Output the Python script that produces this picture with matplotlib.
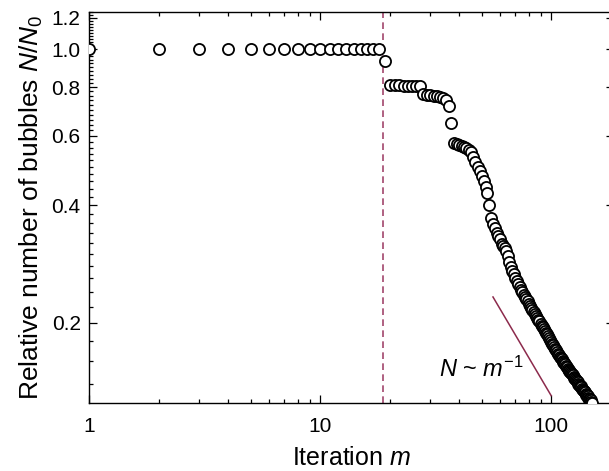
import numpy as np
import matplotlib
matplotlib.use("Agg")
import matplotlib.pyplot as plt
from matplotlib.ticker import FixedLocator, FixedFormatter, NullFormatter

plt.rcParams['font.family'] = ['Liberation Sans', 'DejaVu Sans']
plt.rcParams['mathtext.fontset'] = 'custom'
plt.rcParams['mathtext.rm'] = 'Liberation Sans'
plt.rcParams['mathtext.it'] = 'Liberation Sans:italic'

# ---- data ----
iteration = list(range(1, 151))
relative_n = [
    # 1-19
    1.0, 1.0, 1.0, 1.0, 1.0, 1.0, 1.0, 1.0, 1.0, 1.0,
    1.0, 1.0, 1.0, 1.0, 1.0, 1.0, 1.0, 1.0, 0.93,
    # 20-27
    0.810, 0.809, 0.808, 0.807, 0.806, 0.805, 0.804, 0.803,
    # 28-36
    0.768, 0.765, 0.763, 0.761, 0.759, 0.756, 0.750, 0.742, 0.715,
    # 37-45
    0.648, 0.575, 0.571, 0.568, 0.565, 0.562, 0.558, 0.554, 0.546,
    # 46-55
    0.530, 0.515, 0.500, 0.489, 0.475, 0.460, 0.445, 0.430, 0.400, 0.370,
    # 56-65
    0.358, 0.350, 0.340, 0.334, 0.327, 0.318, 0.314, 0.310, 0.305, 0.296,
    # 66-75
    0.287, 0.278, 0.272, 0.266, 0.261, 0.256, 0.252, 0.247, 0.243, 0.240,
    # 76-85
    0.236, 0.233, 0.230, 0.227, 0.224, 0.221, 0.219, 0.216, 0.213, 0.211,
    # 86-95
    0.208, 0.206, 0.204, 0.202, 0.199, 0.197, 0.195, 0.193, 0.191, 0.189,
    # 96-105
    0.187, 0.185, 0.183, 0.181, 0.179, 0.177, 0.176, 0.174, 0.172, 0.171,
    # 106-115
    0.169, 0.167, 0.166, 0.164, 0.163, 0.162, 0.160, 0.159, 0.158, 0.157,
    # 116-125
    0.155, 0.154, 0.153, 0.152, 0.151, 0.150, 0.149, 0.148, 0.147, 0.146,
    # 126-135
    0.145, 0.144, 0.143, 0.142, 0.141, 0.140, 0.139, 0.138, 0.138, 0.137,
    # 136-145
    0.136, 0.135, 0.134, 0.134, 0.133, 0.132, 0.131, 0.131, 0.130, 0.129,
    # 146-150
    0.128, 0.128, 0.127, 0.126, 0.125,
]
transition_m = 18.7
guide_m = [56, 100]
guide_c = 13.05  # N = c / m

x_major = [1, 10, 100]
x_major_labels = ['1', '10', '100']
y_major = [0.2, 0.4, 0.6, 0.8, 1.0, 1.2]
y_major_labels = ['0.2', '0.4', '0.6', '0.8', '1.0', '1.2']
y_minor = [round(0.12 + 0.02 * i, 2) for i in range(57)]

# ---- figure ----
fig = plt.figure(figsize=(6.09, 4.71), dpi=100)
ax = fig.add_axes([89 / 609, 1 - 403 / 471, 525 / 609, 391 / 471])

ax.set_xscale('log')
ax.set_yscale('log')
ax.set_xlim(1, 187)
ax.set_ylim(0.125, 1.243)

ax.plot(iteration, relative_n, linestyle='none', marker='o', markersize=8,
        markerfacecolor='white', markeredgecolor='black', markeredgewidth=1.3,
        clip_on=True, zorder=3)

ax.axvline(transition_m, color='#a2466c', linewidth=1.2,
           linestyle=(0, (4, 2.6)), zorder=2)

gm = np.array(guide_m, dtype=float)
ax.plot(gm, guide_c / gm, color='#8c2a4c', linewidth=1.1, zorder=2)

ax.text(0.667, 0.066, r'$N$ ~ $m^{\mathrm{-1}}$', transform=ax.transAxes,
        fontsize=17, ha='left', va='baseline')

ax.xaxis.set_major_locator(FixedLocator(x_major))
ax.xaxis.set_major_formatter(FixedFormatter(x_major_labels))
ax.xaxis.set_minor_formatter(NullFormatter())
ax.yaxis.set_major_locator(FixedLocator(y_major))
ax.yaxis.set_major_formatter(FixedFormatter(y_major_labels))
ax.yaxis.set_minor_locator(FixedLocator(y_minor))
ax.yaxis.set_minor_formatter(NullFormatter())

ax.tick_params(which='both', direction='in', top=True, right=True,
               width=0.9, colors='black', labelsize=15)
ax.tick_params(axis='x', which='major', length=6, pad=10)
ax.tick_params(axis='y', which='major', length=6, pad=6)
ax.tick_params(which='minor', length=3)
for s in ax.spines.values():
    s.set_linewidth(1.0)

ax.set_xlabel('Iteration $m$', fontsize=18, labelpad=7)
ax.set_ylabel('Relative number of bubbles $N$/$N_{\\mathrm{0}}$', fontsize=19,
              labelpad=5)

fig.savefig('out.png', dpi=100)
